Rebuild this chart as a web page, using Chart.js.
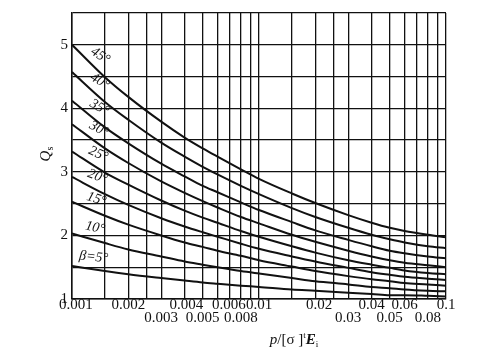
<!DOCTYPE html>
<html>
<head>
<meta charset="utf-8">
<script src="https://cdn.jsdelivr.net/npm/chart.js@4.4.0/dist/chart.umd.min.js"></script>
<style>
  html, body { margin: 0; padding: 0; background: #fff; }
  #wrap { width: 483px; height: 349px; }
</style>
</head>
<body>
<div id="wrap"><canvas id="qsChart"></canvas></div>
<script>
const pValues = [0.001, 0.0015, 0.002, 0.003, 0.004, 0.005, 0.006, 0.008, 0.01, 0.015, 0.02, 0.03, 0.04, 0.05, 0.06, 0.08, 0.1];

// Qs for each cone angle beta
const q5  = [1.52, 1.44, 1.39, 1.33, 1.29, 1.26, 1.24, 1.21, 1.19, 1.15, 1.13, 1.10, 1.08, 1.06, 1.06, 1.05, 1.04];
const q10 = [2.03, 1.88, 1.78, 1.67, 1.59, 1.54, 1.50, 1.44, 1.40, 1.33, 1.28, 1.23, 1.19, 1.17, 1.15, 1.13, 1.12];
const q15 = [2.53, 2.31, 2.17, 2.00, 1.89, 1.82, 1.76, 1.68, 1.61, 1.51, 1.44, 1.36, 1.31, 1.28, 1.25, 1.23, 1.21];
const q20 = [2.92, 2.65, 2.48, 2.27, 2.14, 2.05, 1.98, 1.87, 1.79, 1.67, 1.59, 1.49, 1.42, 1.38, 1.35, 1.32, 1.30];
const q25 = [3.32, 2.99, 2.80, 2.55, 2.39, 2.28, 2.20, 2.07, 1.98, 1.83, 1.73, 1.61, 1.54, 1.49, 1.45, 1.41, 1.39];
const q30 = [3.75, 3.37, 3.14, 2.85, 2.67, 2.54, 2.44, 2.29, 2.19, 2.01, 1.90, 1.76, 1.67, 1.61, 1.57, 1.53, 1.50];
const q35 = [4.12, 3.70, 3.45, 3.13, 2.93, 2.78, 2.68, 2.52, 2.40, 2.21, 2.08, 1.93, 1.83, 1.76, 1.72, 1.67, 1.64];
const q40 = [4.57, 4.10, 3.82, 3.46, 3.24, 3.08, 2.96, 2.78, 2.65, 2.43, 2.29, 2.12, 2.01, 1.94, 1.89, 1.83, 1.80];
const q45 = [5.00, 4.49, 4.18, 3.79, 3.54, 3.37, 3.24, 3.04, 2.89, 2.66, 2.51, 2.32, 2.20, 2.12, 2.07, 2.01, 1.97];

const series = [q5, q10, q15, q20, q25, q30, q35, q40, q45];
const curveLabels = ['β=5°', '10°', '15°', '20°', '25°', '30°', '35°', '40°', '45°'];

// vertical grid lines and the two rows of tick labels
const gridTicks = [0.001, 0.0015, 0.002, 0.0025, 0.003, 0.004, 0.005, 0.006, 0.007, 0.008, 0.009,
                   0.01, 0.015, 0.02, 0.025, 0.03, 0.04, 0.05, 0.06, 0.07, 0.08, 0.09, 0.1];
const upperRow = ['0.001', '0.002', '0.004', '0.006', '0.01', '0.02', '0.04', '0.06', '0.1'];
const lowerRow = ['0.003', '0.005', '0.008', '0.03', '0.05', '0.08'];
const yLabels = ['1', '2', '3', '4', '5'];

const INK = '#111';
const SERIF = '"Liberation Serif", "DejaVu Serif", serif';

// a few labels sit right of their tick in the original, pad them on the left
const nudge = { '0.001': 2, '0.004': 1, '0.006': 6, '0.02': 2 };
const pad = s => '\u00a0'.repeat(nudge[s] || 0) + s;

const curveLabelPlugin = {
  id: 'curveLabels',
  afterDatasetsDraw(chart) {
    const ctx = chart.ctx;
    chart.data.datasets.forEach((ds, i) => {
      const pts = chart.getDatasetMeta(i).data;
      const a = pts[0], b = pts[1];
      const ang = Math.atan2(b.y - a.y, b.x - a.x);
      const t = 0.6;
      const cx = a.x + (b.x - a.x) * t + Math.sin(ang) * 12;
      const cy = a.y + (b.y - a.y) * t - Math.cos(ang) * 12;
      ctx.save();
      ctx.translate(cx, cy);
      ctx.rotate(ang * 0.75);
      ctx.font = 'italic 14px ' + SERIF;
      ctx.fillStyle = INK;
      ctx.textAlign = 'center';
      ctx.textBaseline = 'middle';
      ctx.fillText(curveLabels[i], 0, 0);
      ctx.restore();
    });
  }
};

const axisTitlePlugin = {
  id: 'axisTitles',
  afterDraw(chart) {
    const ctx = chart.ctx;
    ctx.save();
    ctx.fillStyle = INK;
    ctx.textBaseline = 'alphabetic';

    // x title: p/[σ]^t E_i
    const parts = [
      { t: 'p', f: 'italic 15px ' + SERIF, dy: 0 },
      { t: '/[σ ]', f: '15px ' + SERIF, dy: 0 },
      { t: 't', f: '9px ' + SERIF, dy: -6 },
      { t: 'E', f: 'italic bold 15px ' + SERIF, dy: 0 },
      { t: 'i', f: '9px ' + SERIF, dy: 3 }
    ];
    let total = 0;
    parts.forEach(p => { ctx.font = p.f; p.w = ctx.measureText(p.t).width; total += p.w; });
    let x = 294 - total / 2;
    parts.forEach(p => {
      ctx.font = p.f;
      ctx.fillText(p.t, x, 344 + p.dy);
      x += p.w;
    });

    // y title: Q_s
    ctx.translate(50, 154);
    ctx.rotate(-Math.PI / 2);
    ctx.font = 'italic 15px ' + SERIF;
    const qw = ctx.measureText('Q').width;
    ctx.fillText('Q', -qw / 2 - 2, 0);
    ctx.font = '10px ' + SERIF;
    ctx.fillText('s', qw / 2 - 2, 3);
    ctx.restore();
  }
};

new Chart(document.getElementById('qsChart'), {
  type: 'line',
  data: {
    datasets: series.map((s, i) => ({
      label: curveLabels[i],
      data: s.map((q, k) => ({ x: pValues[k], y: q })),
      borderColor: INK,
      borderWidth: 2,
      pointRadius: 0,
      fill: false,
      cubicInterpolationMode: 'monotone'
    }))
  },
  options: {
    responsive: true,
    maintainAspectRatio: false,
    animation: false,
    layout: { padding: { top: 12, right: 37, left: 0, bottom: 0 } },
    plugins: {
      legend: { display: false },
      tooltip: { enabled: false }
    },
    scales: {
      x: {
        type: 'logarithmic',
        min: 0.001,
        max: 0.1,
        afterBuildTicks: axis => { axis.ticks = gridTicks.map(v => ({ value: v })); },
        afterFit: axis => { axis.height = 50; },
        grid: { color: INK, lineWidth: 1.3, drawTicks: false },
        border: { color: INK, width: 1.5 },
        ticks: {
          autoSkip: false,
          maxRotation: 0,
          padding: 0,
          color: INK,
          font: { family: SERIF, size: 15, lineHeight: '13px' },
          callback: v => {
            const s = String(v);
            if (upperRow.includes(s)) return [pad(s)];
            if (lowerRow.includes(s)) return ['', pad(s)];
            return '';
          }
        }
      },
      y: {
        min: 1,
        max: 5.5,
        afterFit: axis => { axis.width = 72; },
        grid: { color: INK, lineWidth: 1.3, drawTicks: false },
        border: { color: INK, width: 1.5 },
        ticks: {
          stepSize: 0.5,
          padding: 4,
          color: INK,
          font: { family: SERIF, size: 15 },
          callback: v => (yLabels.includes(String(v)) ? String(v) : '')
        }
      }
    }
  },
  plugins: [curveLabelPlugin, axisTitlePlugin]
});
</script>
</body>
</html>
